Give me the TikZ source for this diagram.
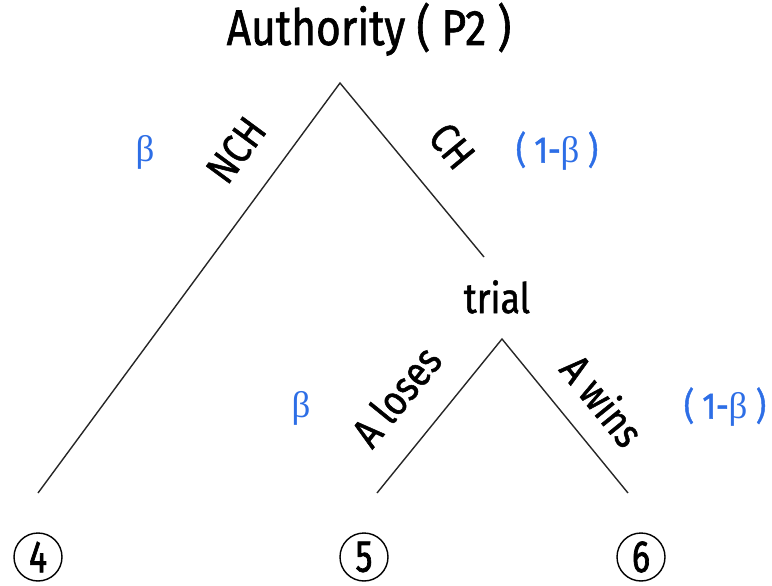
\documentclass[tikz,border=0pt]{standalone}
\usepackage{fontspec}
\setmainfont{Fira Sans}[FakeStretch=0.85,FakeBold=1.2]
\newfontfamily\betafont{Liberation Serif}
\newfontfamily\digitfont{Fira Sans}[FakeStretch=0.75,FakeBold=1.5]
\definecolor{probblue}{HTML}{2D6EE6}
\begin{document}
\begin{tikzpicture}[x=1pt,y=-1pt,
  branch/.style={line width=1.4pt, draw=black!85},
  title/.style={font=\fontsize{50}{56}\selectfont, inner sep=0pt, anchor=base},
  lbl/.style={font=\fontsize{42}{48}\selectfont, inner sep=0pt},
  prob/.style={font=\fontsize{37}{40}\selectfont, text=probblue, inner sep=0pt},
  payoff/.style={circle, draw, line width=1.4pt, minimum size=48pt, inner sep=0pt,
    font=\digitfont\fontsize{45}{48}\selectfont}]
\useasboundingbox (0,0) rectangle (772,586);
% title
\node[title] (auth) at (369,45) {Authority ( P2 )};
% tree coordinates
\coordinate (root) at (340,83);
\coordinate (l4) at (38,493);
\coordinate (chend) at (484,257);
\coordinate (tapex) at (502,339);
\coordinate (l5) at (377,493);
\coordinate (l6) at (628,493);
% branches
\draw[branch] (l4) -- (root) -- (chend);
\draw[branch] (l5) -- (tapex) -- (l6);
% node label
\node[lbl, anchor=base] (trial) at (497,313) {trial};
% branch labels
\node[lbl, rotate=53.6] (nch) at (236,150) {NCH};
\node[lbl, rotate=-50.4] (ch) at (452,146) {CH};
\node[lbl, rotate=51] (alose) at (396,396) {A loses};
\node[lbl, rotate=-51] (awin) at (603,400) {A wins};
% probabilities
\node[prob] (b1) at (145,152) {\betafont β};
\node[prob] (p1) at (557,151) {( 1-{\betafont β} )};
\node[prob] (b2) at (301,408) {\betafont β};
\node[prob] (p2) at (725,407) {( 1-{\betafont β} )};
% payoffs
\node[payoff] (o4) at (38,557) {4};
\node[payoff] (o5) at (364,557) {5};
\node[payoff] (o6) at (641,557) {6};
\end{tikzpicture}
\end{document}
